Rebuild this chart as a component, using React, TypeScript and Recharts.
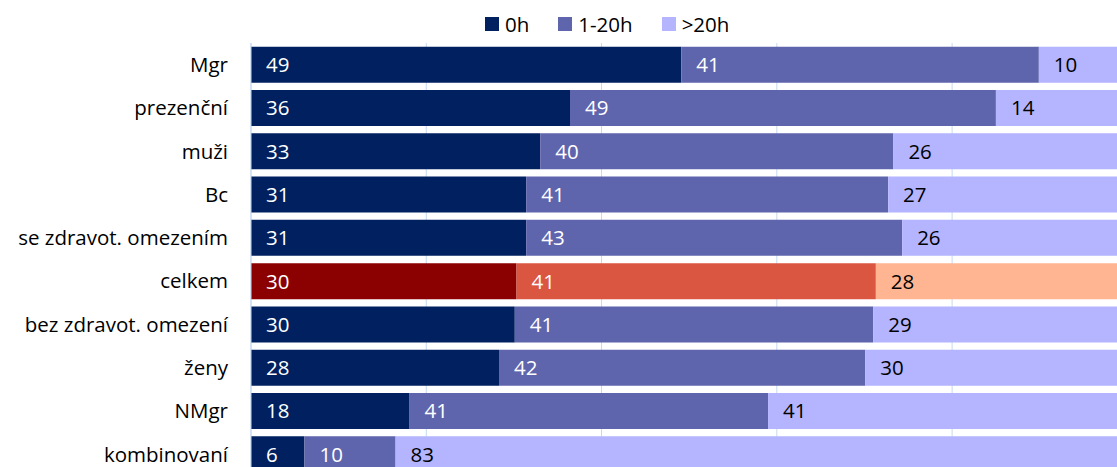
import React from 'react';
import { BarChart, Bar, XAxis, YAxis, CartesianGrid, Legend, Cell } from 'recharts';

const categories = ['Mgr', 'prezenční', 'muži', 'Bc', 'se zdravot. omezením', 'celkem', 'bez zdravot. omezení', 'ženy', 'NMgr', 'kombinovaní'];
const hours0 = [49.1, 36.4, 33.0, 31.4, 31.4, 30.3, 30.1, 28.3, 18.1, 6.1];
const hours1to20 = [40.8, 48.6, 40.3, 41.3, 42.9, 41.0, 40.9, 41.8, 40.9, 10.4];
const hoursOver20 = [10.1, 14.4, 26.0, 27.0, 26.0, 28.0, 29.0, 30.0, 41.0, 83.0];
const seriesNames = ['0h', '1-20h', '>20h'];
const xTicks = [0, 20, 40, 60, 80, 100];

const COLORS = ['#002060', '#5F65AD', '#B4B4FF'];
const HIGHLIGHT = ['#8B0000', '#DA5641', '#FFB592'];
const LABEL_COLORS = ['#ffffff', '#ffffff', '#000000'];
const FONT = '"Open Sans", Lato, sans-serif';

const seriesValues = [hours0, hours1to20, hoursOver20];

const data = categories.map((name, i) => ({
  name,
  h0: hours0[i],
  h1: hours1to20[i],
  h2: hoursOver20[i],
}));

const keys = ['h0', 'h1', 'h2'];

function makeLabel(si: number) {
  return (props: any) => {
    const { x, y, height, index } = props;
    return (
      <text
        x={x + 15}
        y={y + height / 2}
        dy="0.36em"
        fill={LABEL_COLORS[si]}
        fontSize={20.5}
        fontFamily={FONT}
        textAnchor="start"
      >
        {Math.round(seriesValues[si][index])}
      </text>
    );
  };
}

function LegendBox() {
  return (
    <div style={{ height: 40, paddingTop: 10, paddingLeft: 485, boxSizing: 'border-box', display: 'flex', justifyContent: 'flex-start', alignItems: 'flex-start', fontFamily: FONT, fontSize: 20.5, color: '#000' }}>
      {seriesNames.map((s, i) => (
        <span key={s} style={{ display: 'flex', alignItems: 'center', height: 28, marginLeft: i === 0 ? 0 : 29 }}>
          <span style={{ display: 'inline-block', width: 14, height: 14, background: COLORS[i], marginRight: 6 }} />
          {s}
        </span>
      ))}
    </div>
  );
}

export default function App() {
  return (
    <div style={{ position: 'absolute', left: 0, top: 0, width: 1117, height: 467, overflow: 'hidden', background: '#fff' }}>
      <BarChart
        width={1140}
        height={480}
        data={data}
        layout="vertical"
        margin={{ top: 3, right: 10, bottom: 4, left: 0 }}
        barCategoryGap="8.4%"
      >
        <CartesianGrid horizontal={false} stroke="#C6D9F1" />
        <XAxis type="number" domain={[0, 100]} ticks={xTicks} hide />
        <YAxis
          type="category"
          dataKey="name"
          width={251}
          tickLine={false}
          tickMargin={17}
          axisLine={{ stroke: '#C6D9F1' }}
          tick={{ fill: '#000', fontSize: 20.5, fontFamily: FONT }}
          interval={0}
        />
        <Legend verticalAlign="top" content={() => <LegendBox />} wrapperStyle={{ top: 0, left: 0, width: 1117 }} />
        {keys.map((k, si) => (
          <Bar
            key={k}
            dataKey={k}
            name={seriesNames[si]}
            stackId="a"
            fill={COLORS[si]}
            isAnimationActive={false}
            label={makeLabel(si)}
          >
            {data.map((d) => (
              <Cell key={d.name} fill={d.name === 'celkem' ? HIGHLIGHT[si] : COLORS[si]} />
            ))}
          </Bar>
        ))}
      </BarChart>
    </div>
  );
}
